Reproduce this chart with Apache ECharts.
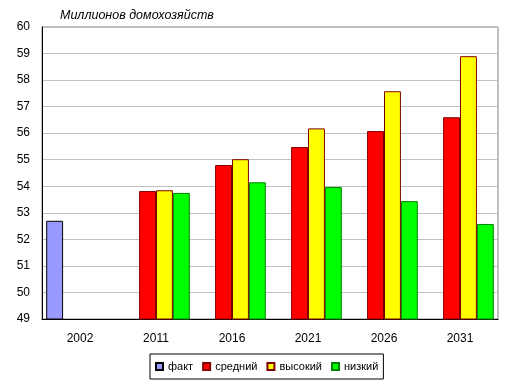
<!DOCTYPE html>
<html><head><meta charset="utf-8">
<script src="https://cdn.jsdelivr.net/npm/echarts@6/dist/echarts.min.js"></script>
<style>html,body{margin:0;padding:0;background:#fff}#c{width:514px;height:390px}</style>
</head><body><div id="c"></div>
<script>
const categories = ['2002','2011','2016','2021','2026','2031'];
const fact     = [52.7, null, null, null, null, null];
const medium   = [null, 53.82, 54.8, 55.48, 56.08, 56.6];
const high     = [null, 53.85, 55.02, 56.18, 57.58, 58.9];
const low      = [null, 53.75, 54.15, 53.97, 53.44, 52.58];
const seriesNames = ['факт','средний','высокий','низкий'];
const yTitle = 'Миллионов домохозяйств';

const font = 'Liberation Sans, Arial, sans-serif';
const colors = ['#9999FF','#FF0000','#FFFF00','#00FF00'];
const borders = ['#000000','#800000','#800000','#008000'];
const datas = [fact, medium, high, low];

const chart = echarts.init(document.getElementById('c'), null, {renderer:'canvas'});
chart.setOption({
  animation:false,
  backgroundColor:'#fff',
  textStyle:{fontFamily:font},
  title:{text:yTitle,left:60,top:9,padding:0,textStyle:{fontFamily:font,fontSize:12.5,fontStyle:'italic',fontWeight:'normal',color:'#000'}},
  grid:{left:42,right:16,top:27,bottom:71,show:true,borderColor:'#808080',borderWidth:1,backgroundColor:'#fff'},
  legend:{
    left:150,top:354,
    data:seriesNames,
    itemWidth:7,itemHeight:7,itemGap:9,
    icon:'rect',
    borderColor:'#000',borderWidth:1,padding:[7,5,7,5],
    textStyle:{fontFamily:font,fontSize:11,color:'#000'}
  },
  xAxis:{
    type:'category',data:categories,
    axisLine:{lineStyle:{color:'#000',width:1}},
    axisTick:{show:false},
    axisLabel:{color:'#000',fontSize:12,fontFamily:font,margin:14}
  },
  yAxis:{
    type:'value',min:49,max:60,interval:1,
    axisLine:{show:true,lineStyle:{color:'#000',width:1}},
    axisTick:{show:false},
    splitLine:{lineStyle:{color:'#C0C0C0',width:1}},
    axisLabel:{color:'#000',fontSize:12,fontFamily:font,margin:12}
  },
  series: datas.map((d,i)=>({
    name:seriesNames[i],type:'bar',data:d,
    barGap:'0%',barCategoryGap:'11%',
    itemStyle:{color:colors[i],borderColor:borders[i],borderWidth:1}
  }))
});
</script></body></html>
